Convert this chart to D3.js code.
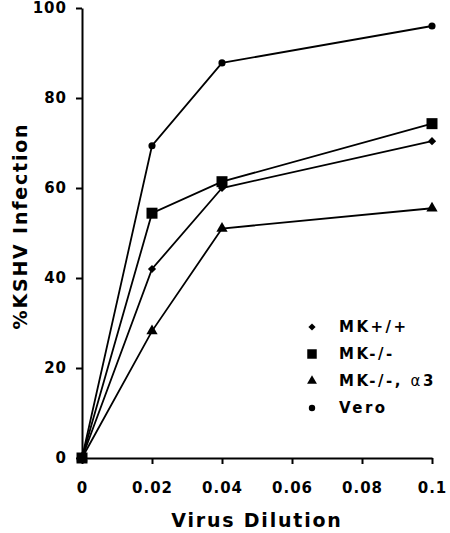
<!DOCTYPE html>
<html><head><meta charset="utf-8">
<script src="https://cdn.jsdelivr.net/npm/d3@7"></script>
<style>body{margin:0;background:#fff}</style>
</head><body>
<svg id="c" width="450" height="533"></svg>
<script>
const dilutions = [0, 0.02, 0.04, 0.1];
const seriesNames = ["MK+/+", "MK-/-", "MK-/-, \u03b13", "Vero"];
const mkWT = [0, 42.0, 60.0, 70.4];
const mkKO = [0, 54.4, 61.4, 74.3];
const mkKOa3 = [0, 28.2, 51.0, 55.5];
const vero = [0, 69.4, 87.8, 96.0];
const xTicks = [0, 0.02, 0.04, 0.06, 0.08, 0.1];
const xTickLabels = ["0", "0.02", "0.04", "0.06", "0.08", "0.1"];
const yTicks = [0, 20, 40, 60, 80, 100];

const svg = d3.select("#c");
const font = "'DejaVu Sans', Verdana, sans-serif";
const x = d3.scaleLinear().domain([0, 0.1]).range([82, 432]);
const y = d3.scaleLinear().domain([0, 100]).range([458, 8]);

const diamond = {draw(ctx, size){ const r = Math.sqrt(size/2); ctx.moveTo(0,-r); ctx.lineTo(r,0); ctx.lineTo(0,r); ctx.lineTo(-r,0); ctx.closePath(); }};

const series = [
  {name: seriesNames[0], vals: mkWT, sym: diamond, size: 34, lsize: 26},
  {name: seriesNames[1], vals: mkKO, sym: d3.symbolSquare, size: 121, lsize: 90},
  {name: seriesNames[2], vals: mkKOa3, sym: d3.symbolTriangle, size: 55, lsize: 42},
  {name: seriesNames[3], vals: vero, sym: d3.symbolCircle, size: 40, lsize: 32}
];

const xAxis = svg.append("g").attr("transform", `translate(0,${y(0)})`)
  .call(d3.axisBottom(x).tickValues(xTicks).tickFormat((d,i)=>xTickLabels[i]).tickSize(6).tickSizeOuter(0));
const yAxis = svg.append("g").attr("transform", `translate(${x(0)},0)`)
  .call(d3.axisLeft(y).tickValues(yTicks).tickSize(6).tickSizeOuter(0));
[xAxis, yAxis].forEach(a => {
  a.select(".domain").attr("stroke", "#000").attr("stroke-width", 2);
  a.selectAll(".tick line").attr("stroke", "#000").attr("stroke-width", 2);
  a.selectAll("text").attr("font-family", font).attr("font-weight", "bold").attr("font-size", 15)
    .attr("letter-spacing", 1).attr("fill", "#000");
});
xAxis.selectAll(".tick text").attr("y", 35).attr("dy", 0);
yAxis.selectAll(".tick text").attr("x", -15);

const line = d3.line().x((d,i)=>x(dilutions[i])).y(d=>y(d));
series.forEach(s => {
  svg.append("path").attr("d", line(s.vals)).attr("fill", "none").attr("stroke", "#000").attr("stroke-width", 1.8);
  svg.selectAll(null).data(s.vals).enter().append("path")
    .attr("d", d3.symbol().type(s.sym).size(s.size))
    .attr("transform", (d,i)=>`translate(${x(dilutions[i])},${y(d)})`)
    .attr("fill", "#000");
});

svg.append("text").attr("x", 257).attr("y", 527).attr("text-anchor", "middle")
  .attr("font-family", font).attr("font-weight", "bold").attr("font-size", 19).attr("letter-spacing", 1.8)
  .text("Virus Dilution");
svg.append("text").attr("transform", "translate(27,226) rotate(-90)").attr("text-anchor", "middle")
  .attr("font-family", font).attr("font-weight", "bold").attr("font-size", 19).attr("letter-spacing", 1.8)
  .text("%KSHV Infection");

const legY = [327, 354, 381, 408];
series.forEach((s, i) => {
  svg.append("path").attr("d", d3.symbol().type(s.sym).size(s.lsize)())
    .attr("transform", `translate(312,${legY[i]})`).attr("fill", "#000");
  const t = svg.append("text").attr("x", 339).attr("y", legY[i]).attr("dy", "0.36em")
    .attr("font-family", font).attr("font-weight", "bold").attr("font-size", 15).attr("letter-spacing", 2.5);
  if (i === 2) {
    t.append("tspan").text("MK-/-, ");
    t.append("tspan").attr("font-weight", "normal").text("\u03b1");
    t.append("tspan").text("3");
  } else t.text(s.name);
});
</script>
</body></html>
